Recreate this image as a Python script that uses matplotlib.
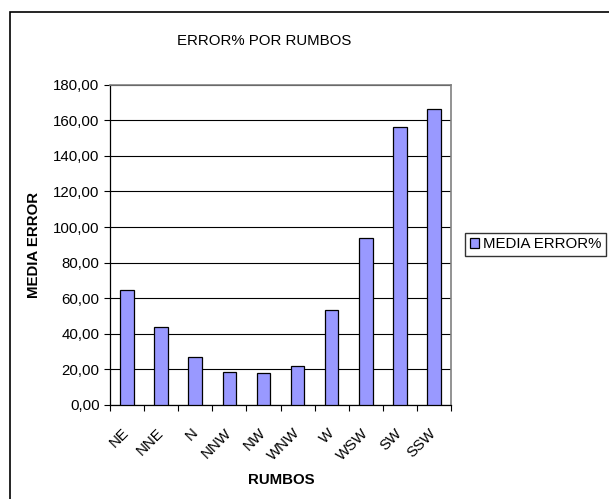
import numpy as np
import matplotlib.pyplot as plt
from matplotlib.patches import Rectangle

plt.rcParams['font.family'] = ['Liberation Sans', 'DejaVu Sans']

rumbos = ['NE', 'NNE', 'N', 'NNW', 'NW', 'WNW', 'W', 'WSW', 'SW', 'SSW']
media_error = [64.4, 43.6, 26.8, 18.7, 18.2, 22.1, 53.2, 94.0, 156.4, 166.5]
y_ticks = [0, 20, 40, 60, 80, 100, 120, 140, 160, 180]

fs = 10.8

fig = plt.figure(figsize=(6.09, 4.99), dpi=100)
# chart area border (only top/left visible in the crop)
fig.patches.append(Rectangle((10 / 609, -0.1), 1.2, 1 - 12 / 499 + 0.1,
                             transform=fig.transFigure, fill=False,
                             edgecolor='black', linewidth=1.2))

ax = fig.add_axes([110 / 609, 1 - 405 / 499, 341 / 609, 320.3 / 499])
x = np.arange(len(rumbos))
ax.bar(x, media_error, width=0.4, color='#9999FF', edgecolor='black',
       linewidth=0.9, zorder=3, label='MEDIA ERROR%')

ax.set_xlim(-0.5, len(rumbos) - 0.5)
ax.set_ylim(0, 180)
ax.set_yticks(y_ticks)
ax.set_yticklabels(['%d,00' % v for v in y_ticks], fontsize=fs)
ax.yaxis.grid(True, color='black', linewidth=0.8, zorder=0)

ax.set_xticks(np.arange(len(rumbos) + 1) - 0.5)
ax.set_xticklabels([])
ax.tick_params(axis='both', direction='out', length=4, width=0.8, colors='black')
for i, r in enumerate(rumbos):
    ax.text(i, -14.5, r, rotation=45, ha='right', va='center',
            rotation_mode='anchor', fontsize=fs)

for s in ['left', 'bottom']:
    ax.spines[s].set_color('black')
    ax.spines[s].set_linewidth(0.9)
for s in ['top', 'right']:
    ax.spines[s].set_color('#808080')
    ax.spines[s].set_linewidth(1.2)

fig.text(264 / 609, 1 - 41 / 499, 'ERROR% POR RUMBOS', ha='center', va='center', fontsize=fs)
fig.text(34 / 609, 1 - 245 / 499, 'MEDIA ERROR', ha='center', va='center',
         rotation=90, fontsize=fs, fontweight='bold')
fig.text(281 / 609, 1 - 480 / 499, 'RUMBOS', ha='center', va='center',
         fontsize=fs, fontweight='bold')

leg = fig.legend(loc='center left', bbox_to_anchor=(465 / 609, 1 - 244.5 / 499),
                 fontsize=fs, frameon=True, fancybox=False, handlelength=0.6,
                 handleheight=0.6, handletextpad=0.3, borderpad=0.3,
                 borderaxespad=0)
leg.get_frame().set_edgecolor('black')
leg.get_frame().set_linewidth(1.0)

fig.savefig('out.png', dpi=100)
